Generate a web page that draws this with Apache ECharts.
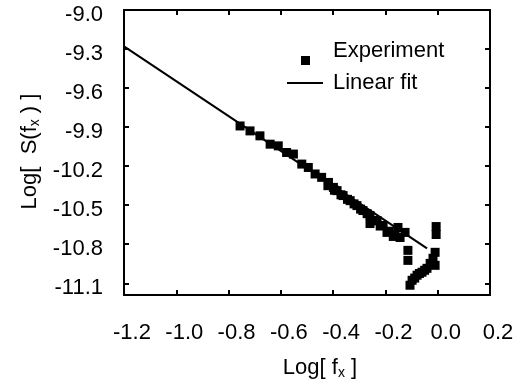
<!DOCTYPE html>
<html>
<head>
<meta charset="utf-8">
<script src="https://cdn.jsdelivr.net/npm/echarts@6/dist/echarts.min.js"></script>
<style>
  html, body { margin: 0; padding: 0; background: #fff; }
  #chart { width: 525px; height: 387px; }
</style>
</head>
<body>
<div id="chart"></div>
<script>
// Measured spectrum: log10 of frequency vs log10 of spectral density
const logFx = [
  -0.756, -0.718, -0.680, -0.641, -0.610, -0.578, -0.552, -0.520, -0.495,
  -0.469, -0.444, -0.418, -0.399, -0.385, -0.362, -0.335, -0.309, -0.286,
  -0.259, -0.259, -0.232, -0.209, -0.194, -0.163,
  -0.420, -0.395, -0.370, -0.345, -0.320, -0.295, -0.270, -0.245,
  -0.220, -0.185, -0.170,
  -0.152, -0.125, -0.144, -0.006, -0.006,
  -0.114, -0.114, -0.010, -0.018, -0.029, -0.010,
  -0.041, -0.060, -0.079, -0.098, -0.106, -0.088, -0.050, -0.070
];
const logS = [
  -9.891, -9.929, -9.967, -10.031, -10.044, -10.095, -10.107, -10.184, -10.210,
  -10.260, -10.286, -10.325, -10.363, -10.388, -10.426, -10.465, -10.503, -10.541,
  -10.579, -10.641, -10.618, -10.656, -10.709, -10.732,
  -10.350, -10.385, -10.420, -10.455, -10.490, -10.530, -10.565, -10.620,
  -10.660, -10.700, -10.740,
  -10.671, -10.709, -10.748, -10.664, -10.725,
  -10.847, -10.924, -10.862, -10.908, -10.947, -10.962,
  -10.985, -11.015, -11.038, -11.077, -11.115, -11.060, -11.000, -11.025
];

// Least-squares fit endpoints
const fitX = [-1.2, -0.041];
const fitY = [-9.279, -10.832];

// Axis tick values
const xTicks = [-1.2, -1.0, -0.8, -0.6, -0.4, -0.2, 0.0, 0.2];
const yTicks = [-9.0, -9.3, -9.6, -9.9, -10.2, -10.5, -10.8, -11.1];

const FONT = 'Liberation Sans';
const FS = 22;
const chart = echarts.init(document.getElementById('chart'), null, { renderer: 'canvas' });

const frame = { show: true, onZero: false, lineStyle: { color: '#000', width: 2 } };
const tickIn = { show: true, inside: true, length: 5, lineStyle: { color: '#000', width: 2 } };
const subRich = { sub: { fontFamily: FONT, fontSize: 14, verticalAlign: 'bottom', padding: [10, 0, 0, 0] } };
const baseText = { fontFamily: FONT, fontSize: FS, color: '#000' };

// Legend marker sits a little below the middle of its label
const markerIcon = 'path://M0,0L0.01,0L0.01,0.01Z M0,20L9,20L9,29L0,29Z';

chart.setOption({
  animation: false,
  backgroundColor: '#fff',
  textStyle: { fontFamily: FONT, color: '#000' },
  grid: { left: 124, right: 35, top: 10, bottom: 92, containLabel: false },
  legend: [
    {
      left: 301,
      top: 36,
      padding: 0,
      itemWidth: 9,
      itemHeight: 29,
      textStyle: Object.assign({ padding: [0, 0, 0, 18] }, baseText),
      data: [{ name: 'Experiment', icon: markerIcon, itemStyle: { color: '#000', opacity: 1 } }]
    },
    {
      left: 287,
      top: 72,
      padding: 0,
      itemWidth: 36,
      itemHeight: 2,
      textStyle: Object.assign({ padding: [0, 0, 0, 5] }, baseText),
      data: [{ name: 'Linear fit', icon: 'rect', itemStyle: { color: '#000' } }]
    }
  ],
  xAxis: [
    {
      type: 'value',
      position: 'bottom',
      min: xTicks[0],
      max: xTicks[xTicks.length - 1],
      interval: 0.2,
      axisLine: frame,
      axisTick: tickIn,
      splitLine: { show: false },
      axisLabel: Object.assign({
        margin: 27,
        padding: [0, 0, 0, 16],
        formatter: v => v.toFixed(1)
      }, baseText),
      name: 'Log[ f{sub|x} ]',
      nameLocation: 'middle',
      nameGap: 61,
      nameTextStyle: Object.assign({ padding: [0, 0, 0, 26], rich: subRich }, baseText)
    },
    {
      type: 'value',
      position: 'top',
      min: xTicks[0],
      max: xTicks[xTicks.length - 1],
      interval: 0.2,
      axisLine: frame,
      axisTick: tickIn,
      axisLabel: { show: false },
      splitLine: { show: false }
    }
  ],
  yAxis: [
    {
      type: 'value',
      position: 'left',
      min: -11.19,
      max: -9.0,
      axisLine: frame,
      axisTick: Object.assign({ customValues: yTicks }, tickIn),
      splitLine: { show: false },
      axisLabel: Object.assign({
        customValues: yTicks,
        margin: 21,
        formatter: v => '{t|' + v.toFixed(1) + '}',
        rich: { t: { fontFamily: FONT, fontSize: FS, color: '#000', padding: [10, 0, 0, 0] } }
      }, baseText),
      name: 'Log[  S(f{sub|x} ) ]',
      nameLocation: 'middle',
      nameGap: 76,
      nameTextStyle: Object.assign({ padding: [0, 0, 0, 2], rich: subRich }, baseText)
    },
    {
      type: 'value',
      position: 'right',
      min: -11.19,
      max: -9.0,
      axisLine: frame,
      axisTick: Object.assign({ customValues: yTicks }, tickIn),
      axisLabel: { show: false },
      splitLine: { show: false }
    }
  ],
  series: [
    {
      name: 'Experiment',
      type: 'scatter',
      symbol: 'rect',
      symbolSize: 9,
      itemStyle: { color: '#000', opacity: 1 },
      data: logFx.map((x, i) => [x, logS[i]]),
      z: 3
    },
    {
      name: 'Linear fit',
      type: 'line',
      symbol: 'none',
      lineStyle: { color: '#000', width: 2 },
      itemStyle: { color: '#000' },
      data: fitX.map((x, i) => [x, fitY[i]]),
      z: 2
    }
  ]
});
</script>
</body>
</html>
